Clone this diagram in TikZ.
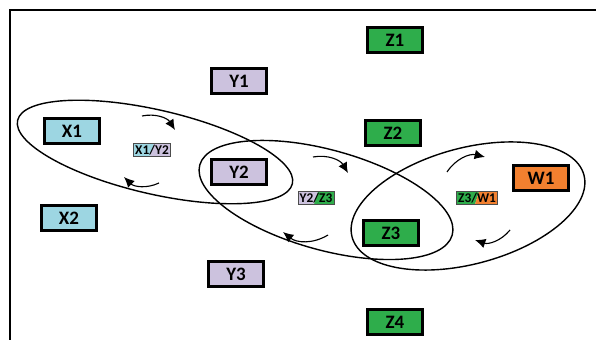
\documentclass[tikz,border=0pt]{standalone}
\usepackage{fontspec}
\setmainfont{Carlito}
\usepackage{tikz}
\usetikzlibrary{arrows.meta}

\definecolor{xblue}{HTML}{9DD6E2}
\definecolor{ylilac}{HTML}{CCC2DE}
\definecolor{zgreen}{HTML}{2EAD4B}
\definecolor{worange}{HTML}{F2802F}

\tikzset{
  unitbox/.style={draw, line width=1.6pt, minimum width=1.38cm, minimum height=0.63cm,
    inner sep=0pt, font=\bfseries\fontsize{13.5}{15}\selectfont},
  pairtag/.style 2 args={draw=black!70, line width=0.4pt, inner sep=1.2pt,
    font=\bfseries\fontsize{9.5}{11}\selectfont,
    path picture={
      \fill[#1] (path picture bounding box.south west) -- (path picture bounding box.north west)
        -- ([xshift=1.5pt]path picture bounding box.north) -- ([xshift=-1.5pt]path picture bounding box.south) -- cycle;
      \fill[#2] ([xshift=-1.5pt]path picture bounding box.south) -- ([xshift=1.5pt]path picture bounding box.north)
        -- (path picture bounding box.north east) -- (path picture bounding box.south east) -- cycle;
    }},
  orbit/.style={line width=1pt},
  flowarrow/.style={line width=0.8pt, -{Latex[length=2.6mm,width=2.4mm]}}
}

\begin{document}
\begin{tikzpicture}
  \useasboundingbox (0,0) rectangle (14.9,8.5);
  \draw[line width=2pt] (14.9,8.25) -- (0.25,8.25) -- (0.25,0);

  \node[unitbox, fill=xblue] (x1) at (1.8,5.225) {X1};
  \node[unitbox, fill=xblue] (x2) at (1.725,3.05) {X2};
  \node[unitbox, fill=ylilac] (y1) at (5.975,6.475) {Y1};
  \node[unitbox, fill=ylilac] (y2) at (5.975,4.2) {Y2};
  \node[unitbox, fill=ylilac] (y3) at (5.9,1.65) {Y3};
  \node[unitbox, fill=zgreen] (z1) at (9.875,7.5) {Z1};
  \node[unitbox, fill=zgreen] (z2) at (9.825,5.175) {Z2};
  \node[unitbox, fill=zgreen] (z3) at (9.775,2.675) {Z3};
  \node[unitbox, fill=zgreen] (z4) at (9.875,0.45) {Z4};
  \node[unitbox, fill=worange] (w1) at (13.525,4.05) {W1};

  \node[pairtag={xblue}{ylilac}] (x1y2) at (3.8,4.75) {X1/Y2};
  \node[pairtag={ylilac}{zgreen}] (y2z3) at (7.9,3.55) {Y2/Z3};
  \node[pairtag={zgreen}{worange}] (z3w1) at (11.925,3.55) {Z3/W1};

  \draw[orbit] (3.875,4.7) ellipse[x radius=3.525, y radius=1.05, rotate=-13];
  \draw[orbit] (8.15,3.5) ellipse[x radius=3.275, y radius=1.25, rotate=-15.5];
  \draw[orbit] (11.7,3.35) ellipse[x radius=3.0, y radius=1.45, rotate=15];

  \coordinate (a1s) at (3.55,5.6);   \coordinate (a1e) at (4.375,5.25);
  \coordinate (a2s) at (3.975,3.925); \coordinate (a2e) at (3.1,4.075);
  \coordinate (a3s) at (7.825,4.575); \coordinate (a3e) at (8.7,4.175);
  \coordinate (a4s) at (8.2,2.625);  \coordinate (a4e) at (7.075,2.7);
  \coordinate (a5s) at (11.175,4.2); \coordinate (a5e) at (12.125,4.575);
  \coordinate (a6s) at (12.75,2.75); \coordinate (a6e) at (11.875,2.5);

  \draw[flowarrow] (a1s) to[bend left=35] (a1e);
  \draw[flowarrow] (a2s) to[bend left=35] (a2e);
  \draw[flowarrow] (a3s) to[bend left=35] (a3e);
  \draw[flowarrow] (a4s) to[bend left=35] (a4e);
  \draw[flowarrow] (a5s) to[bend left=35] (a5e);
  \draw[flowarrow] (a6s) to[bend left=35] (a6e);
\end{tikzpicture}
\end{document}
